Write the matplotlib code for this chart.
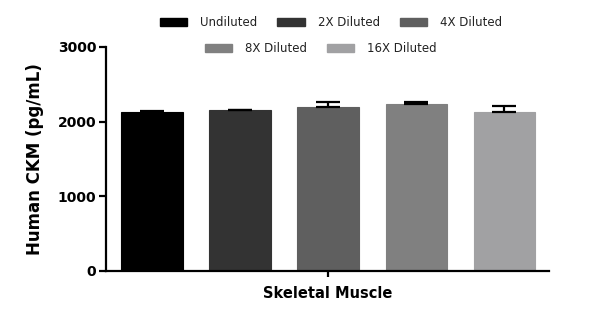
import numpy as np
import matplotlib.pyplot as plt

# values
groups = ["Undiluted", "2X Diluted", "4X Diluted", "8X Diluted", "16X Diluted"]
means = [2126, 2155, 2193, 2237, 2130]
errs = [22, 5, 70, 30, 76]
colors = ["#000000", "#333333", "#5f5f5f", "#808080", "#a1a1a3"]
category = "Skeletal Muscle"

fig = plt.figure(figsize=(6, 3.18), dpi=100)
ax = fig.add_axes([106/600, 47/318, 443/600, 224/318])

x = np.arange(len(groups))
ax.bar(x, means, width=0.70, color=colors, edgecolor=colors, linewidth=0.8, zorder=2)
ax.errorbar(x, means, yerr=[np.zeros(len(errs)), errs], fmt='none', ecolor='black',
            elinewidth=1.6, capsize=8.5, capthick=1.6, zorder=3)

ax.set_xlim(-0.523, 4.506)
ax.set_ylim(0, 3000)
ax.set_yticks([0, 1000, 2000, 3000])
ax.set_xticks([2])
ax.set_xticklabels([""])
ax.spines['top'].set_visible(False)
ax.spines['right'].set_visible(False)
ax.spines['left'].set_linewidth(1.6)
ax.spines['bottom'].set_linewidth(1.6)
ax.tick_params(axis='y', width=1.6, length=5, labelsize=10, pad=2)
ax.tick_params(axis='x', width=1.6, length=4)
for lab in ax.get_yticklabels():
    lab.set_fontweight('bold')
ax.set_ylabel("Human CKM (pg/mL)", fontsize=12, fontweight='bold', labelpad=10)
ax.set_xlabel(category, fontsize=10.5, fontweight='bold', labelpad=3)

# legend in two centred rows
h1 = [plt.Rectangle((0, 0), 1, 1, color=c) for c in colors]
kw = dict(loc='center', frameon=False, fontsize=8.5, handlelength=2.3, handleheight=0.68,
          columnspacing=1.7, handletextpad=1.1, borderpad=0)
leg1 = fig.legend(h1[:3], groups[:3], bbox_to_anchor=(331/600, 1 - 23/318), ncol=3, **kw)
leg2 = fig.legend(h1[3:], groups[3:], bbox_to_anchor=(321/600, 1 - 49/318), ncol=2, **kw)
for leg in (leg1, leg2):
    for t in leg.get_texts():
        t.set_color("#222222")

fig.savefig("out.png", dpi=100)
